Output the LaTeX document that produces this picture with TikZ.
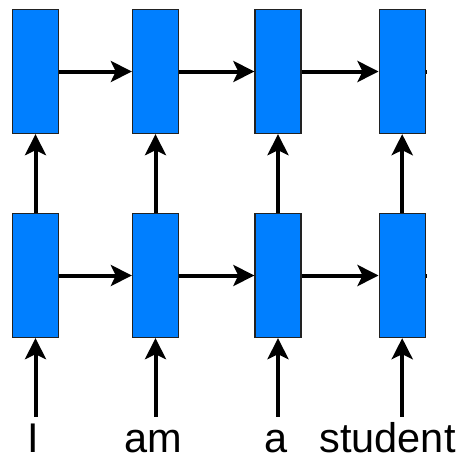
\documentclass[tikz,border=0pt]{standalone}
\usepackage{fontspec}
\setmainfont{Liberation Sans}
\usetikzlibrary{arrows.meta}
\definecolor{cellblue}{HTML}{007FFF}
\definecolor{celledge}{HTML}{222222}
\tikzset{
  cell/.style={rectangle, draw=celledge, fill=cellblue, line width=1.3pt,
    minimum width=46pt, minimum height=124pt, inner sep=0pt},
  flow/.style={draw=black, line width=4pt,
    -{Stealth[length=21pt, width=21pt, inset=5pt]}},
  stub/.style={draw=black, line width=4pt},
  word/.style={anchor=base, inner sep=0pt, text depth=0pt,
    font=\fontsize{41.5pt}{44pt}\selectfont}
}
\begin{document}
\begin{tikzpicture}[x=1pt, y=-1pt]
  \useasboundingbox (0,0) rectangle (459,456);

  % upper layer of cells
  \node[cell] (t1) at (35.5,71.5) {};
  \node[cell] (t2) at (155.5,71.5) {};
  \node[cell] (t3) at (278,71.5) {};
  \node[cell] (t4) at (402.2,71.5) {};

  % lower layer of cells
  \node[cell] (b1) at (35.5,275.5) {};
  \node[cell] (b2) at (155.5,275.5) {};
  \node[cell] (b3) at (278,275.5) {};
  \node[cell] (b4) at (402.2,275.5) {};

  % input words
  \node[word] (w1) at (33.5,452.5) {I};
  \node[word] (w2) at (153,452.5) {am};
  \node[word] (w3) at (276,452.5) {a};
  \node[word] (w4) at (387.5,452.5) {student};

  % lower ends of the input arrows
  \coordinate (i1) at (35.5,416.7);
  \coordinate (i2) at (155.5,416.7);
  \coordinate (i3) at (278,416.7);
  \coordinate (i4) at (402.2,416.7);

  % recurrent connections
  \draw[flow] (t1.east) -- (t2.west);
  \draw[flow] (t2.east) -- (t3.west);
  \draw[flow] (t3.east) -- (t4.west);
  \draw[flow] (b1.east) -- (b2.west);
  \draw[flow] (b2.east) -- (b3.west);
  \draw[flow] (b3.east) -- (b4.west);

  % layer-to-layer connections
  \draw[flow] (b1.north) -- (t1.south);
  \draw[flow] (b2.north) -- (t2.south);
  \draw[flow] (b3.north) -- (t3.south);
  \draw[flow] (b4.north) -- (t4.south);

  % inputs
  \draw[flow] (i1) -- (b1.south);
  \draw[flow] (i2) -- (b2.south);
  \draw[flow] (i3) -- (b3.south);
  \draw[flow] (i4) -- (b4.south);

  % outgoing stubs on the last cells
  \draw[stub] (t4.east) -- ++(1.5,0);
  \draw[stub] (b4.east) -- ++(1.5,0);
\end{tikzpicture}
\end{document}
